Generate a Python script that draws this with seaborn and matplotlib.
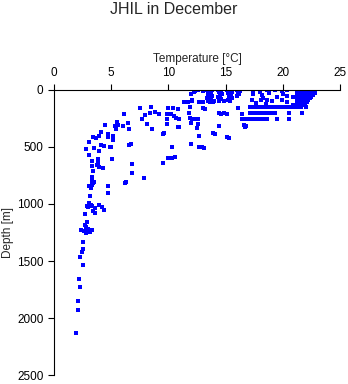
# Perfil de temperatura JHIL - dezembro

import pandas as pd
import seaborn as sns
import matplotlib
matplotlib.use("Agg")
import matplotlib.pyplot as plt

# Dados: temperatura [°C] e profundidade [m]
# ramo profundo
temp_deep = [1.95, 2.1, 2.1, 2.3, 2.2, 2.5, 2.3, 2.45, 2.5, 2.55, 2.8, 3.15, 3.3, 2.4, 2.6,
             2.7, 2.9, 2.8, 3.0, 2.7, 3.6, 3.4, 4.4, 3.6, 4.2, 3.9, 2.85, 3.1, 3.2, 3.0,
             3.3, 3.15, 4.75, 4.75, 3.2, 3.3, 3.4, 3.3, 3.5, 3.1, 3.25, 6.3, 6.2]
depth_deep = [2128, 1932, 1853, 1731, 1658, 1535, 1462, 1420, 1395, 1330, 1257, 1242, 1228, 1228, 1235,
              1184, 1160, 1200, 1215, 1087, 1081, 1058, 1052, 1038, 1023, 1008, 1017, 994, 1005, 1030,
              1015, 927, 906, 842, 850, 830, 815, 800, 805, 840, 860, 811, 818]

# termoclina (100-800 m)
temp_mid = [3.35, 3.4, 3.3, 3.85, 3.85, 3.8, 3.9, 4.3, 5.1, 3.3, 3.1, 6.8, 6.8, 7.9, 3.9,
            2.8, 3.5, 4.9, 5.0, 4.4, 4.1, 6.6, 6.7, 3.1, 3.4, 3.7, 3.96, 4.1, 4.7, 4.7,
            5.2, 5.2, 5.2, 4.5, 5.4, 5.5, 5.6, 5.3, 6.0, 6.1, 6.5, 6.6, 7.5, 8.0, 7.7,
            8.4, 8.1, 8.5, 8.8, 9.2, 8.4, 9.9, 10.2, 10.5, 10.7, 9.9, 10.9, 9.9, 10.9, 10.8,
            8.6, 9.5, 9.6, 10.3, 10.0, 10.3, 10.6, 9.55, 10.0, 10.4, 10.8, 11.4, 11.7, 12.1, 12.1,
            12.7, 13.0, 11.9, 13.0, 13.2, 11.8, 11.9, 12.1, 12.6, 12.4, 12.0, 12.6, 12.5, 12.7, 13.9,
            14.1, 14.4, 14.4, 14.6, 14.9, 15.1, 16.1, 16.4, 16.4, 16.7, 16.9, 17.1, 16.6, 16.8, 16.7,
            15.1, 15.3, 12.0, 12.7, 12.9, 13.1]
depth_mid = [766, 710, 669, 605, 640, 660, 675, 681, 605, 623, 570, 652, 731, 774, 535,
             515, 506, 500, 500, 491, 485, 480, 475, 459, 415, 424, 401, 371, 389, 409,
             400, 420, 438, 310, 345, 286, 307, 313, 319, 213, 292, 339, 158, 219, 251,
             199, 301, 146, 193, 210, 202, 210, 215, 225, 245, 254, 254, 301, 322, 322,
             342, 390, 380, 500, 600, 600, 590, 643, 160, 160, 165, 105, 105, 90, 100,
             105, 105, 146, 160, 165, 205, 250, 254, 254, 254, 292, 301, 336, 401, 380,
             385, 313, 202, 210, 205, 210, 155, 213, 254, 254, 254, 254, 307, 315, 325,
             415, 420, 476, 500, 505, 510]

# camada superficial 12-21 °C
temp_top = [12.3, 12.6, 13.0, 12.0, 12.2,
            13.4, 13.6, 13.8, 13.5, 13.7, 13.5, 13.8, 13.6, 13.4, 13.7, 13.5, 13.9, 13.6,
            14.3, 14.6, 14.4, 14.7, 14.5, 14.3, 14.6, 14.4,
            15.1, 15.4, 15.6, 15.2, 15.5, 15.3, 15.6, 15.2, 15.4,
            16.0, 16.3, 16.1, 16.2, 16.0, 14.0, 14.9,
            17.4, 17.4, 17.3, 18.0, 18.2, 18.3, 18.1, 18.6, 18.8, 18.6, 19.1, 19.3, 19.9,
            20.0, 19.9, 20.4, 20.4, 20.4, 20.9, 20.9, 19.5, 17.7, 18.5,
            17.1, 17.4, 17.7, 18.0, 18.3, 18.6, 18.9, 19.2, 19.5, 19.8, 20.1, 20.4, 20.7, 21.0,
            21.2, 21.6, 22.0,
            17.1, 17.4, 17.7, 18.0, 18.3, 18.6, 18.9, 19.2, 19.3, 20.5, 21.7,
            17.1, 17.4, 17.7, 18.0, 18.3, 18.6, 19.5, 20.5]
depth_top = [10, 5, 10, 40, 20,
             0, 0, 5, 20, 30, 45, 55, 65, 75, 85, 95, 105, 110,
             0, 5, 20, 35, 50, 65, 80, 95,
             0, 5, 15, 30, 45, 60, 70, 85, 100,
             0, 10, 25, 40, 55, 100, 100,
             0, 40, 90, 20, 45, 70, 90, 0, 30, 85, 100, 0, 10,
             40, 90, 0, 50, 110, 60, 130, 60, 115, 120,
             150, 150, 150, 150, 150, 150, 150, 150, 150, 150, 150, 150, 150, 150,
             150, 150, 150,
             205, 205, 205, 205, 205, 205, 205, 205, 205, 205, 205,
             254, 254, 254, 254, 254, 254, 254, 254]

# bloco denso perto da superfície (21-23 °C)
temp_warm = [21.3, 21.6, 21.9, 22.2, 22.5, 22.8,
             21.2, 21.5, 21.8, 22.1, 22.4, 22.7,
             21.3, 21.6, 21.9, 22.2, 22.5, 22.8,
             21.2, 21.5, 21.8, 22.1, 22.4, 22.6,
             21.3, 21.6, 21.9, 22.2, 22.5,
             21.2, 21.5, 21.8, 22.1, 22.4,
             21.3, 21.6, 21.9, 22.2,
             21.2, 21.5, 21.8, 22.1,
             21.3, 21.6, 21.9,
             21.2, 21.5, 21.8]
depth_warm = [0, 0, 0, 0, 0, 0,
              15, 15, 15, 15, 15, 15,
              30, 30, 30, 30, 30, 30,
              45, 45, 45, 45, 45, 45,
              60, 60, 60, 60, 60,
              75, 75, 75, 75, 75,
              90, 90, 90, 90,
              105, 105, 105, 105,
              120, 120, 120,
              135, 135, 135]

df = pd.DataFrame({
    "temp": temp_deep + temp_mid + temp_top + temp_warm,
    "depth": depth_deep + depth_mid + depth_top + depth_warm,
})

sns.set_style("ticks")
plt.rcParams["font.family"] = ["Liberation Sans", "DejaVu Sans"]

fig = plt.figure(figsize=(3.48, 3.84), dpi=100)
ax = fig.add_axes([0.155, 0.023, 0.822, 0.743])

sns.scatterplot(data=df, x="temp", y="depth", marker="s", s=6,
                color="#0000ff", linewidth=0, ax=ax)

ax.set_xlim(0, 25)
ax.set_ylim(2500, 0)
ax.set_xticks([0, 5, 10, 15, 20, 25])
ax.set_yticks([0, 500, 1000, 1500, 2000, 2500])
ax.xaxis.tick_top()
ax.xaxis.set_label_position("top")
ax.set_xlabel("Temperature [°C]", fontsize=8.5, labelpad=4)
ax.set_ylabel("Depth [m]", fontsize=8.5, labelpad=2)
ax.tick_params(labelsize=8.5, length=4, width=0.8, colors="black")
for s in ["right", "bottom"]:
    ax.spines[s].set_visible(False)
for s in ["left", "top"]:
    ax.spines[s].set_linewidth(0.8)
    ax.spines[s].set_color("black")

fig.suptitle("JHIL in December", fontsize=11.5, y=0.995)

fig.savefig("out.png", dpi=100)
